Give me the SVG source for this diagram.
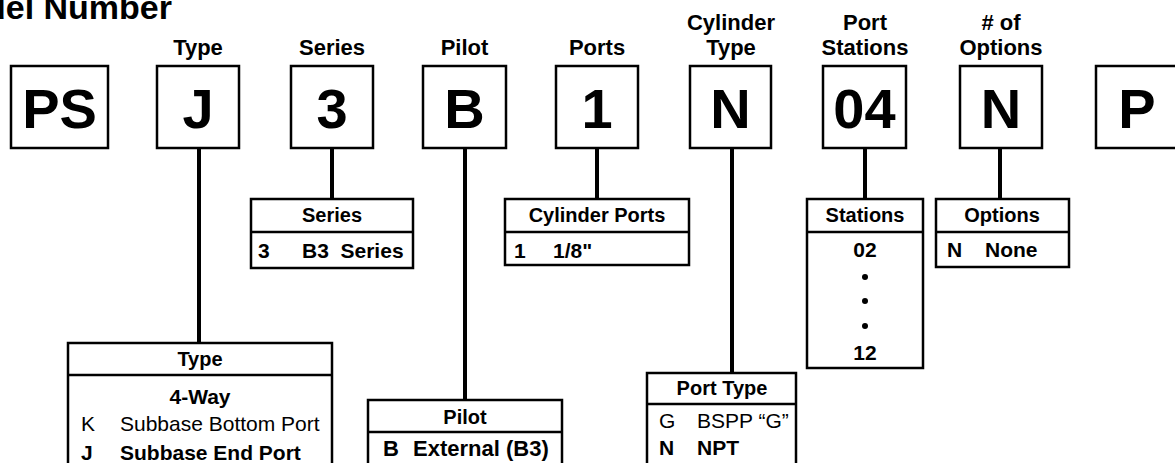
<svg xmlns="http://www.w3.org/2000/svg" width="1175" height="463" viewBox="0 0 1175 463">
<style>
text{font-family:"Liberation Sans",Arial,Helvetica,sans-serif;fill:#000}
.title{font-size:34px;font-weight:bold}
.lbl{font-size:22px;font-weight:bold;text-anchor:middle}
.big{font-size:56px;font-weight:bold;text-anchor:middle}
.hd{font-size:20px;font-weight:bold;text-anchor:middle}
.r{font-size:21px}
.b{font-weight:bold}
.c{text-anchor:middle}
.box{fill:#fff;stroke:#000;stroke-width:2.5}
.ln{stroke:#000;stroke-width:2.5}
.conn line{stroke:#000;stroke-width:4}
</style>
<rect width="1175" height="463" fill="#fff"/>
<text class="title" x="172" y="19" text-anchor="end">Model Number</text>

<g class="conn" id="connectors">
<line x1="199" y1="148" x2="199" y2="343"/>
<line x1="332" y1="148" x2="332" y2="199"/>
<line x1="465" y1="148" x2="465" y2="400"/>
<line x1="597" y1="148" x2="597" y2="199"/>
<line x1="732" y1="148" x2="732" y2="373"/>
<line x1="865" y1="148" x2="865" y2="199"/>
<line x1="1000" y1="148" x2="1000" y2="199"/>
</g>

<g id="box-ps"><rect class="box" x="11" y="66" width="97" height="82"/><text class="big" x="59.5" y="128">PS</text></g>
<g id="box-type"><text class="lbl" x="198" y="55">Type</text><rect class="box" x="157" y="66" width="82" height="82"/><text class="big" x="198" y="128">J</text></g>
<g id="box-series"><text class="lbl" x="332" y="55">Series</text><rect class="box" x="291" y="66" width="82" height="82"/><text class="big" x="332" y="128">3</text></g>
<g id="box-pilot"><text class="lbl" x="464.5" y="55">Pilot</text><rect class="box" x="423" y="66" width="83" height="82"/><text class="big" x="464.5" y="128">B</text></g>
<g id="box-ports"><text class="lbl" x="597" y="55">Ports</text><rect class="box" x="556" y="66" width="82" height="82"/><text class="big" x="597" y="128">1</text></g>
<g id="box-cyl"><text class="lbl" x="731" y="30">Cylinder</text><text class="lbl" x="731" y="55">Type</text><rect class="box" x="690" y="66" width="81" height="82"/><text class="big" x="730.5" y="128">N</text></g>
<g id="box-stations"><text class="lbl" x="865" y="30">Port</text><text class="lbl" x="865" y="55">Stations</text><rect class="box" x="823" y="66" width="83" height="82"/><text class="big" x="864.5" y="128">04</text></g>
<g id="box-options"><text class="lbl" x="1001" y="30"># of</text><text class="lbl" x="1001" y="55">Options</text><rect class="box" x="960" y="66" width="82" height="82"/><text class="big" x="1001" y="128">N</text></g>
<g id="box-p"><rect class="box" x="1096" y="66" width="82" height="82"/><text class="big" x="1137" y="128">P</text></g>

<g id="tbl-series">
<rect class="box" x="251" y="199" width="162" height="69"/>
<line class="ln" x1="251" y1="232" x2="413" y2="232"/>
<text class="hd" x="332" y="222">Series</text>
<text class="r b" x="258" y="258">3</text>
<text class="r b" x="302" y="258" xml:space="preserve">B3  Series</text>
</g>

<g id="tbl-cylports">
<rect class="box" x="505" y="199" width="184" height="66"/>
<line class="ln" x1="505" y1="232" x2="689" y2="232"/>
<text class="hd" x="597" y="222">Cylinder Ports</text>
<text class="r b" x="514" y="258">1</text>
<text class="r b" x="553" y="258">1/8"</text>
</g>

<g id="tbl-stations">
<rect class="box" x="807" y="199" width="116" height="169"/>
<line class="ln" x1="807" y1="232" x2="923" y2="232"/>
<text class="hd" x="865" y="222">Stations</text>
<text class="r b c" x="865" y="257">02</text>
<circle cx="865" cy="277" r="3"/>
<circle cx="865" cy="301" r="3"/>
<circle cx="865" cy="326" r="3"/>
<text class="r b c" x="865" y="360">12</text>
</g>

<g id="tbl-options">
<rect class="box" x="936" y="199" width="133" height="68"/>
<line class="ln" x1="936" y1="232" x2="1069" y2="232"/>
<text class="hd" x="1002" y="222">Options</text>
<text class="r b" x="947" y="257">N</text>
<text class="r b" x="985" y="257">None</text>
</g>

<g id="tbl-type">
<rect class="box" x="68" y="343" width="264" height="130"/>
<line class="ln" x1="68" y1="375" x2="332" y2="375"/>
<text class="hd" x="200" y="366">Type</text>
<text class="r b c" x="200" y="404">4-Way</text>
<text class="r" x="81" y="431">K</text>
<text class="r" x="120" y="431">Subbase Bottom Port</text>
<text class="r b" x="81" y="460">J</text>
<text class="r b" x="120" y="460">Subbase End Port</text>
</g>

<g id="tbl-pilot">
<rect class="box" x="368" y="400" width="194" height="80"/>
<line class="ln" x1="368" y1="432" x2="562" y2="432"/>
<text class="hd" x="465" y="424">Pilot</text>
<text class="r b" x="383" y="456" style="font-size:22px">B</text>
<text class="r b" x="413" y="456" style="font-size:22px">External (B3)</text>
</g>

<g id="tbl-porttype">
<rect class="box" x="647" y="373" width="149" height="100"/>
<line class="ln" x1="647" y1="404" x2="796" y2="404"/>
<text class="hd" x="722" y="395">Port Type</text>
<text class="r" x="659" y="428">G</text>
<text class="r" x="697" y="428">BSPP “G”</text>
<text class="r b" x="659" y="455">N</text>
<text class="r b" x="697" y="455">NPT</text>
</g>
</svg>
